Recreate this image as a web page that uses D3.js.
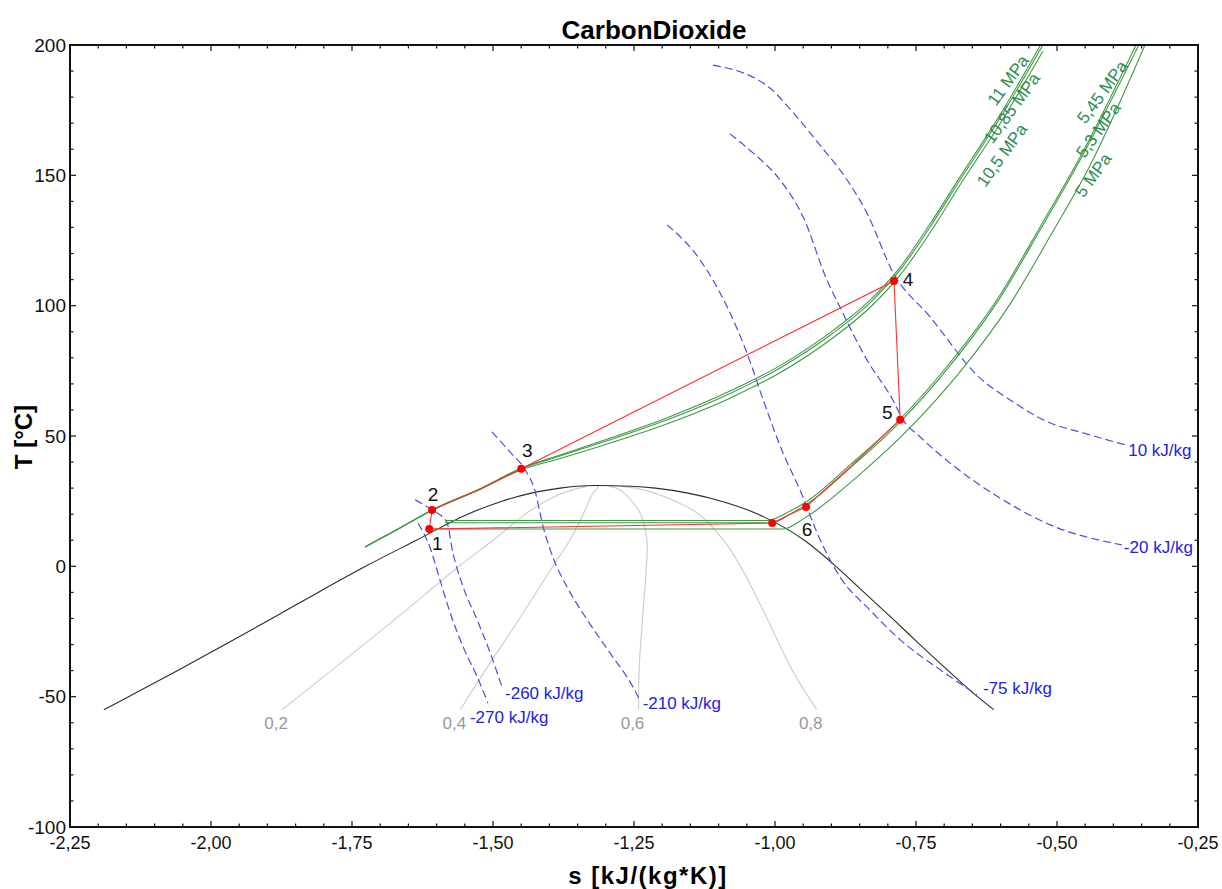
<!DOCTYPE html>
<html>
<head>
<meta charset="utf-8">
<script src="https://cdn.jsdelivr.net/npm/d3@7"></script>
<style>
  body { margin: 0; background: #fff; }
  text { font-family: 'Liberation Sans', Arial, sans-serif; }
</style>
</head>
<body>
<svg></svg>
<script>
// Saturation dome (T in °C, s in kJ/(kg*K))
const satT = [-55, -50, -40, -30, -20, -10, 0, 10, 20, 25, 28, 30, 30.7, 31]
const satLiquidS = [-2.190, -2.146, -2.059, -1.975, -1.892, -1.810, -1.726, -1.636, -1.545, -1.484, -1.434, -1.381, -1.352, -1.318]
const satVaporS = [-0.612, -0.641, -0.693, -0.743, -0.792, -0.842, -0.892, -0.948, -1.030, -1.095, -1.152, -1.212, -1.255, -1.318]

// Lines of constant vapour quality
const qualityNames = ['0,2', '0,4', '0,6', '0,8']
const qualityT = [-55, -40, -20, 0, 10, 20, 25, 28, 30, 30.7]
const qualityS = [
  [-1.874, -1.787, -1.672, -1.560, -1.500, -1.443, -1.407, -1.378, -1.348, -1.333],
  [-1.558, -1.514, -1.453, -1.394, -1.364, -1.340, -1.330, -1.323, -1.315, -1.313],
  [-1.242, -1.241, -1.235, -1.228, -1.227, -1.238, -1.254, -1.267, -1.281, -1.294],
  [-0.926, -0.969, -1.014, -1.061, -1.091, -1.135, -1.177, -1.212, -1.248, -1.274],
]

// Isobars
const isobarNames = ['11 MPa', '10,85 MPa', '10,5 MPa', '5,45 MPa', '5,3 MPa', '5 MPa']
const highS = [-1.727, -1.665, -1.608, -1.523, -1.450, -1.381, -1.310, -1.191, -1.074, -0.991, -0.897, -0.832, -0.778, -0.725, -0.672, -0.601, -0.525]
const isobarS = [
  highS,
  highS,
  highS,
  [-1.585, -1.014, -0.973, -0.945, -0.867, -0.778, -0.690, -0.601, -0.530, -0.459, -0.360],
  [-1.585, -1.005, -0.973, -0.945, -0.867, -0.778, -0.690, -0.601, -0.530, -0.459, -0.355],
  [-1.613, -0.986, -0.947, -0.849, -0.761, -0.672, -0.583, -0.512, -0.441, -0.344],
]
const isobarT = [
  [7.4, 14.7, 21.6, 29.8, 37.6, 42.7, 47.9, 57.0, 67.8, 77.0, 90.5, 102.0, 114.8, 131.4, 149.4, 173.2, 201.6],
  [7.4, 14.7, 21.6, 29.7, 37.4, 42.3, 47.3, 56.2, 66.9, 76.1, 89.5, 101.0, 113.7, 130.2, 148.2, 172.0, 200],
  [7.4, 14.7, 21.5, 29.5, 37.0, 41.4, 46.1, 54.7, 65.1, 74.3, 87.7, 99.2, 111.8, 128.0, 146.3, 169.8, 197.6],
  [17.6, 17.6, 21.2, 24.7, 38.9, 56.5, 78.0, 104.1, 130.2, 157.0, 200],
  [16.7, 16.7, 20.1, 23.6, 37.7, 55.4, 76.9, 103.0, 129.0, 155.9, 200],
  [14.3, 14.3, 18.6, 35.4, 53.1, 74.6, 100.7, 126.7, 154.0, 200],
]

// Isenthalps
const isenthalpNames = ['-270 kJ/kg', '-260 kJ/kg', '-210 kJ/kg', '-75 kJ/kg', '-20 kJ/kg', '10 kJ/kg']
const isenthalpS = [
  [-1.633, -1.612, -1.594, -1.576, -1.553, -1.528, -1.509],
  [-1.638, -1.608, -1.582, -1.571, -1.553, -1.528, -1.505, -1.484],
  [-1.502, -1.470, -1.443, -1.426, -1.411, -1.394, -1.369, -1.333, -1.293, -1.252, -1.240],
  [-1.191, -1.133, -1.085, -1.050, -1.021, -0.986, -0.956, -0.920, -0.885, -0.832, -0.778, -0.707, -0.642],
  [-1.080, -1.039, -0.991, -0.950, -0.908, -0.885, -0.837, -0.791, -0.773, -0.743, -0.690, -0.601, -0.512, -0.385],
  [-1.110, -1.009, -0.968, -0.920, -0.872, -0.837, -0.791, -0.725, -0.637, -0.583, -0.512, -0.454, -0.379],
]
const isenthalpT = [
  [16.6, 7.4, -5.2, -17.8, -30.9, -42.4, -52.4],
  [25.5, 21.6, 17.0, 5.1, -7.9, -20.6, -33.2, -46.3],
  [51.6, 43.9, 37.0, 29.3, 15.1, 3.6, -7.8, -20.5, -33.1, -46.2, -51.2],
  [131.0, 117.6, 99.6, 82.0, 63.9, 43.6, 29.4, 10.2, -4.0, -16.7, -28.2, -39.7, -49.3],
  [165.9, 158.6, 148.2, 134.0, 109.9, 99.5, 79.2, 63.8, 56.2, 49.7, 39.7, 26.2, 15.9, 8.2],
  [192.3, 183.5, 174.1, 161.5, 148.2, 135.5, 112.9, 95.7, 72.3, 63.8, 55.0, 51.2, 46.6],
]

// Cycle
const cycleLabels = ['1', '2', '3', '4', '5', '6', '']
const cycleS = [-1.613, -1.608, -1.450, -0.789, -0.778, -0.945, -1.005]
const cycleT = [14.3, 21.6, 37.4, 109.5, 56.2, 22.8, 16.6]
const cyclePathS = [-1.613, -1.608, -1.523, -1.450, -0.789, -0.778, -0.867, -0.945, -1.005, -1.613]
const cyclePathT = [14.3, 21.6, 29.6, 37.4, 109.5, 56.2, 38.0, 22.8, 16.6, 14.3]

const xTicks = [-2.25, -2.0, -1.75, -1.5, -1.25, -1.0, -0.75, -0.5, -0.25]
const yTicks = [-100, -50, 0, 50, 100, 150, 200]

// Layout
const width = 1222
const height = 889
const margin = { left: 70, top: 45, right: 24, bottom: 62 }
const plotW = width - margin.left - margin.right
const plotH = height - margin.top - margin.bottom

const svg = d3.select('svg').attr('width', width).attr('height', height)
const x = d3.scaleLinear().domain([-2.25, -0.25]).range([margin.left, margin.left + plotW])
const y = d3.scaleLinear().domain([-100, 200]).range([margin.top + plotH, margin.top])

svg.append('defs').append('clipPath').attr('id', 'plot-clip')
  .append('rect')
  .attr('x', margin.left).attr('y', margin.top)
  .attr('width', plotW).attr('height', plotH)

const plot = svg.append('g').attr('clip-path', 'url(#plot-clip)')
const lineMono = d3.line().x((d) => x(d[0])).y((d) => y(d[1])).curve(d3.curveMonotoneX)
const lineCR = d3.line().x((d) => x(d[0])).y((d) => y(d[1])).curve(d3.curveCatmullRom.alpha(0.5))
const zip = (a, b) => a.map((v, i) => [v, b[i]])

// quality lines
qualityS.forEach((sArr, i) => {
  const pts = zip(sArr, qualityT)
  plot.append('path')
    .attr('d', lineCR(pts))
    .attr('fill', 'none')
    .attr('stroke', '#cfcfcf')
    .attr('stroke-width', 1.2)
  svg.append('text')
    .attr('x', x(pts[0][0]) - 6)
    .attr('y', y(pts[0][1]) + 13)
    .attr('dy', '0.35em')
    .attr('text-anchor', 'middle')
    .attr('font-size', 17)
    .attr('fill', '#999')
    .text(qualityNames[i])
})

// saturation dome
const dome = zip(satLiquidS, satT).concat(zip(satVaporS, satT).reverse().slice(1))
plot.append('path')
  .attr('d', lineMono(dome))
  .attr('fill', 'none')
  .attr('stroke', '#2b2b2b')
  .attr('stroke-width', 1.1)

// isenthalps
const hLabelOffset = [[-18, 14], [3, 6], [3, 3], [6, -7], [2, 2], [3, 5]]
isenthalpS.forEach((sArr, i) => {
  const pts = zip(sArr, isenthalpT[i])
  plot.append('path')
    .attr('d', lineMono(pts))
    .attr('fill', 'none')
    .attr('stroke', '#4d4de0')
    .attr('stroke-width', 1.2)
    .attr('stroke-dasharray', '8,4')
  const end = pts[pts.length - 1]
  svg.append('text')
    .attr('x', x(end[0]) + hLabelOffset[i][0])
    .attr('y', y(end[1]) + hLabelOffset[i][1])
    .attr('dy', '0.35em')
    .attr('font-size', 17)
    .attr('fill', '#2222dd')
    .text(isenthalpNames[i])
})

// isobars
isobarS.forEach((sArr, i) => {
  plot.append('path')
    .attr('d', lineMono(zip(sArr, isobarT[i])))
    .attr('fill', 'none')
    .attr('stroke', '#3f9a45')
    .attr('stroke-width', 1.1)
})
const pLabelAt = [[-0.587, 186.5], [-0.580, 175.8], [-0.598, 157.8], [-0.420, 182.0], [-0.427, 167.4], [-0.436, 150.1]]
isobarNames.forEach((name, i) => {
  const px = x(pLabelAt[i][0])
  const py = y(pLabelAt[i][1])
  svg.append('text')
    .attr('transform', `translate(${px},${py}) rotate(-54)`)
    .attr('text-anchor', 'middle')
    .attr('dy', '0.35em')
    .attr('font-size', 17)
    .attr('fill', '#2d8c50')
    .text(name)
})

// cycle
plot.append('path')
  .attr('d', d3.line().x((d) => x(d[0])).y((d) => y(d[1]))(zip(cyclePathS, cyclePathT)))
  .attr('fill', 'none')
  .attr('stroke', '#ff3030')
  .attr('stroke-width', 1.1)

const labelOffset = [[8, 14], [1, -16], [6, -18], [14, -2], [-13, -7], [1, 22], [0, 0]]
cycleS.forEach((s, i) => {
  svg.append('circle')
    .attr('cx', x(s))
    .attr('cy', y(cycleT[i]))
    .attr('r', 4)
    .attr('fill', '#ff0000')
  svg.append('text')
    .attr('x', x(s) + labelOffset[i][0])
    .attr('y', y(cycleT[i]) + labelOffset[i][1])
    .attr('dy', '0.35em')
    .attr('text-anchor', 'middle')
    .attr('font-size', 19)
    .attr('fill', '#111')
    .text(cycleLabels[i])
})

// axes with inward ticks on all sides
const fmt = (d) => d3.format('.2f')(d).replace('.', ',').replace('−', '-')
const xMinor = d3.range(-2.25, -0.249, 0.05)
const yMinor = d3.range(-100, 201, 10)
const frame = svg.append('g').attr('stroke', '#111')

xMinor.forEach((v) => {
  const major = xTicks.some((t) => Math.abs(t - v) < 1e-6)
  const len = major ? 6 : 3.5
  frame.append('line').attr('x1', x(v)).attr('x2', x(v))
    .attr('y1', y(-100)).attr('y2', y(-100) - len).attr('stroke-width', 1.2)
  frame.append('line').attr('x1', x(v)).attr('x2', x(v))
    .attr('y1', y(200)).attr('y2', y(200) + len).attr('stroke-width', 1.2)
})
yMinor.forEach((v) => {
  const major = yTicks.includes(v)
  const len = major ? 6 : 3.5
  frame.append('line').attr('x1', x(-2.25)).attr('x2', x(-2.25) + len)
    .attr('y1', y(v)).attr('y2', y(v)).attr('stroke-width', 1.2)
  frame.append('line').attr('x1', x(-0.25)).attr('x2', x(-0.25) - len)
    .attr('y1', y(v)).attr('y2', y(v)).attr('stroke-width', 1.2)
})
frame.append('rect')
  .attr('x', margin.left).attr('y', margin.top)
  .attr('width', plotW).attr('height', plotH)
  .attr('fill', 'none').attr('stroke-width', 2)

svg.append('g').selectAll('text').data(xTicks).join('text')
  .attr('x', (d) => x(d))
  .attr('y', y(-100) + 16)
  .attr('dy', '0.35em')
  .attr('text-anchor', 'middle')
  .attr('font-size', 18)
  .attr('fill', '#111')
  .text(fmt)

svg.append('g').selectAll('text').data(yTicks).join('text')
  .attr('x', margin.left - 4)
  .attr('y', (d) => y(d))
  .attr('dy', '0.35em')
  .attr('text-anchor', 'end')
  .attr('font-size', 19)
  .attr('fill', '#111')
  .text((d) => d)

svg.append('text')
  .attr('x', 654).attr('y', 30)
  .attr('dy', '0.35em')
  .attr('text-anchor', 'middle')
  .attr('font-size', 26)
  .attr('font-weight', 'bold')
  .text('CarbonDioxide')

svg.append('text')
  .attr('x', 648).attr('y', 876)
  .attr('dy', '0.35em')
  .attr('text-anchor', 'middle')
  .attr('font-size', 24)
  .attr('font-weight', 'bold')
  .attr('letter-spacing', 1.5)
  .text('s [kJ/(kg*K)]')

svg.append('text')
  .attr('transform', `translate(24,${y(50) + 1}) rotate(-90)`)
  .attr('dy', '0.35em')
  .attr('text-anchor', 'middle')
  .attr('font-size', 24)
  .attr('font-weight', 'bold')
  .text('T [°C]')
</script>
</body>
</html>
